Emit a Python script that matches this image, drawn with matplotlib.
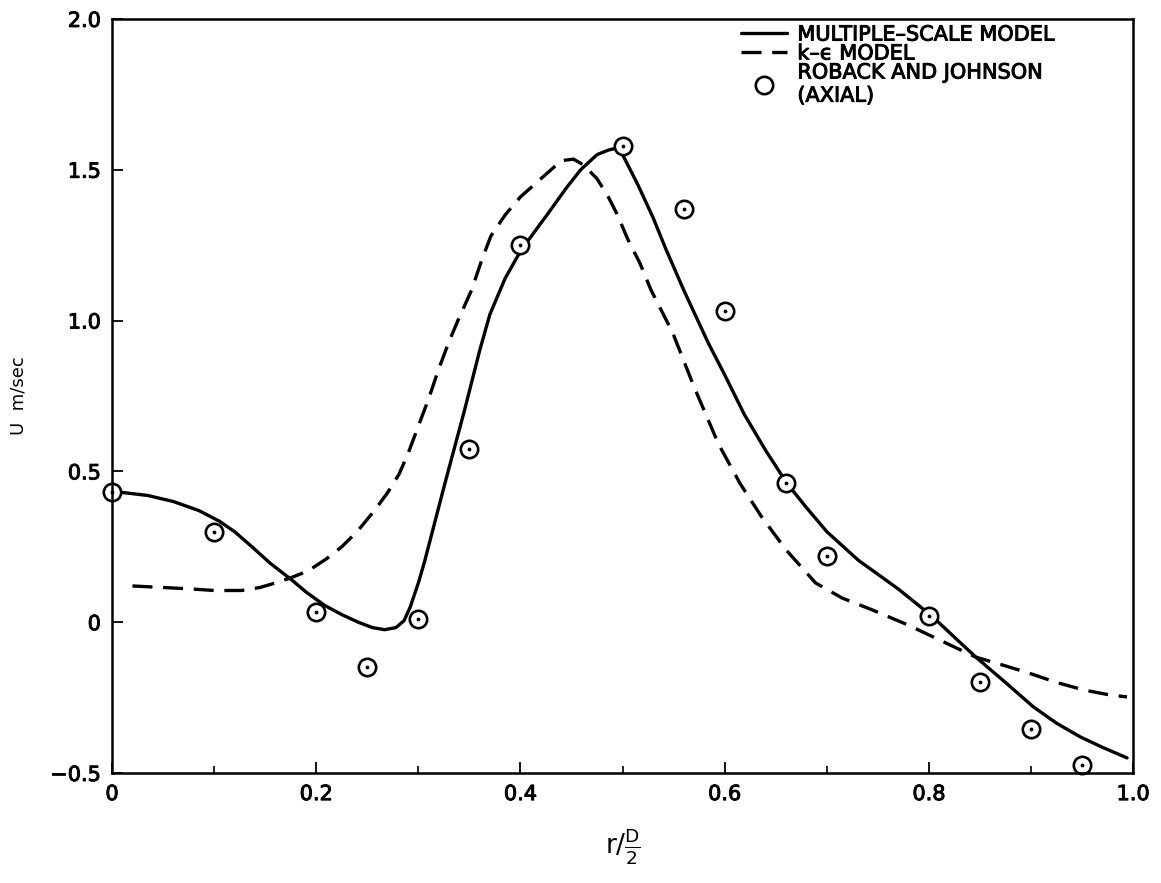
import matplotlib.pyplot as plt
import matplotlib.patheffects as pe
from matplotlib.ticker import MultipleLocator

plt.rcParams['font.family'] = ['DejaVu Sans']

# measured points (Roback and Johnson, axial)
exp_r = [0.0, 0.10, 0.20, 0.25, 0.30, 0.35, 0.40, 0.50, 0.56, 0.60, 0.66, 0.70, 0.80, 0.85, 0.90, 0.95]
exp_u = [0.43, 0.30, 0.035, -0.15, 0.01, 0.575, 1.25, 1.58, 1.37, 1.03, 0.46, 0.22, 0.02, -0.20, -0.355, -0.475]

# multiple-scale model curve
ms_r = [0.01, 0.035, 0.06, 0.085, 0.105, 0.12, 0.137, 0.155, 0.176, 0.19, 0.208, 0.225,
        0.241, 0.255, 0.267, 0.278, 0.286, 0.292, 0.30, 0.306, 0.326, 0.345, 0.36, 0.37,
        0.385, 0.40, 0.415, 0.427, 0.445, 0.459, 0.475, 0.486, 0.492, 0.50, 0.515, 0.53,
        0.542, 0.56, 0.584, 0.60, 0.619, 0.64, 0.661, 0.68, 0.70, 0.731, 0.77, 0.803,
        0.825, 0.846, 0.875, 0.902, 0.925, 0.948, 0.97, 0.994]
ms_u = [0.43, 0.42, 0.40, 0.37, 0.335, 0.30, 0.25, 0.195, 0.14, 0.10, 0.056, 0.025,
        0.0, -0.018, -0.025, -0.018, 0.005, 0.05, 0.13, 0.20, 0.46, 0.70, 0.90, 1.02,
        1.14, 1.23, 1.30, 1.355, 1.44, 1.50, 1.55, 1.565, 1.57, 1.55, 1.45, 1.34,
        1.24, 1.10, 0.925, 0.82, 0.69, 0.57, 0.46, 0.38, 0.30, 0.205, 0.11, 0.02,
        -0.05, -0.116, -0.20, -0.28, -0.335, -0.38, -0.415, -0.45]

# k-epsilon model curve
ke_r = [0.02, 0.05, 0.078, 0.10, 0.127, 0.145, 0.16, 0.175, 0.192, 0.21, 0.225, 0.24,
        0.257, 0.27, 0.281, 0.29, 0.30, 0.31, 0.32, 0.33, 0.34, 0.352, 0.362, 0.371,
        0.385, 0.40, 0.42, 0.44, 0.452, 0.462, 0.475, 0.486, 0.495, 0.505, 0.517, 0.528,
        0.549, 0.57, 0.594, 0.615, 0.636, 0.66, 0.689, 0.715, 0.745, 0.78, 0.811, 0.846,
        0.875, 0.899, 0.925, 0.952, 0.975, 0.994]
ke_u = [0.12, 0.115, 0.11, 0.105, 0.105, 0.115, 0.13, 0.147, 0.17, 0.21, 0.25, 0.30,
        0.37, 0.43, 0.49, 0.56, 0.65, 0.74, 0.84, 0.93, 1.01, 1.10, 1.20, 1.28,
        1.35, 1.41, 1.47, 1.53, 1.535, 1.515, 1.47, 1.41, 1.35, 1.27, 1.19, 1.10,
        0.96, 0.78, 0.59, 0.46, 0.35, 0.24, 0.13, 0.08, 0.04, -0.01, -0.06, -0.116,
        -0.145, -0.17, -0.20, -0.225, -0.24, -0.248]

xtick_vals = [0, 0.2, 0.4, 0.6, 0.8, 1.0]
xtick_labels = ['0', '0.2', '0.4', '0.6', '0.8', '1.0']
ytick_vals = [-0.5, 0, 0.5, 1.0, 1.5, 2.0]
ytick_labels = ['\u22120.5', '0', '0.5', '1.0', '1.5', '2.0']

# slightly heavier text, like the printed original
heavy = [pe.withStroke(linewidth=0.7, foreground='black')]

fig = plt.figure(figsize=(11.61, 8.83), dpi=100)
ax = fig.add_axes([0.0965, 0.1246, 0.8795, 0.854])

ax.plot(ms_r, ms_u, color='black', lw=2.4, solid_capstyle='round',
        label='MULTIPLE\u2013SCALE MODEL')
ax.plot(ke_r, ke_u, color='black', lw=2.4, dashes=(6, 3.2), label='k\u2013\u03f5 MODEL')
ax.plot(exp_r, exp_u, 'o', ms=12.5, mfc='white', mec='black', mew=1.9, clip_on=False,
        label='ROBACK AND JOHNSON\n(AXIAL)')
ax.plot(exp_r, exp_u, '.', ms=3.5, color='black', clip_on=False)

ax.set_xlim(0, 1.0)
ax.set_ylim(-0.5, 2.0)
ax.set_xticks(xtick_vals)
ax.set_xticklabels(xtick_labels)
ax.set_yticks(ytick_vals)
ax.set_yticklabels(ytick_labels)
ax.xaxis.set_minor_locator(MultipleLocator(0.1))
ax.tick_params(which='both', direction='in', top=False, right=False, labelsize=15)
ax.tick_params(which='major', length=8, width=1.3, pad=8)
ax.tick_params(which='minor', length=5, width=1.2)
for t in ax.get_xticklabels() + ax.get_yticklabels():
    t.set_path_effects(heavy)
for s in ax.spines.values():
    s.set_linewidth(1.8)

ax.set_ylabel('U  m/sec', fontsize=13)
ax.yaxis.set_label_coords(-0.083, 0.5)
ax.set_xlabel(r'r/$\mathregular{\frac{D}{2}}$', fontsize=19, labelpad=16)

leg = ax.legend(loc='upper left', bbox_to_anchor=(0.612, 0.998), frameon=False,
                prop={'size': 15}, handlelength=2.2,
                handletextpad=0.5, labelspacing=-0.05, borderaxespad=0.0, borderpad=0.2)
for t in leg.get_texts():
    t.set_path_effects(heavy)

fig.savefig('out.png', dpi=100)
